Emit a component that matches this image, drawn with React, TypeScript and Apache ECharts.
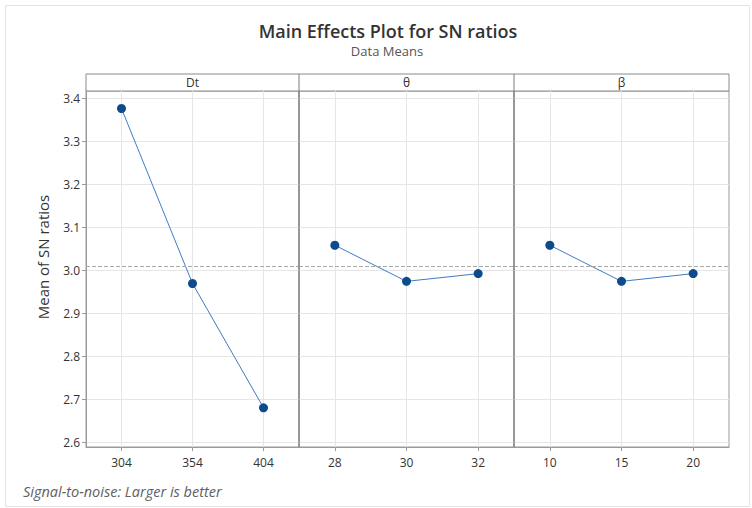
import React, { useEffect, useRef } from "react";
import * as echarts from "echarts";

const factorNames = ["Dt", "θ", "β"];
const dtLevels = [304, 354, 404];
const dtMeans = [3.377, 2.97, 2.681];
const thetaLevels = [28, 30, 32];
const thetaMeans = [3.059, 2.975, 2.993];
const betaLevels = [10, 15, 20];
const betaMeans = [3.059, 2.975, 2.993];
const yTicks = [2.6, 2.7, 2.8, 2.9, 3.0, 3.1, 3.2, 3.3, 3.4];
const grandMean = 3.009;
const yMin = 2.5898;
const yMax = 3.4177;

const FONT = "'Open Sans', 'Noto Sans', sans-serif";

export default function App() {
  const ref = useRef<HTMLDivElement>(null);
  useEffect(() => {
    if (!ref.current) return;
    const chart = echarts.init(ref.current, undefined, { renderer: "svg" });
    const levelsList = [dtLevels, thetaLevels, betaLevels];
    const meansList = [dtMeans, thetaMeans, betaMeans];
    const grids = [
      { left: 86, width: 213 },
      { left: 299, width: 215 },
      { left: 514, width: 215 },
    ].map((g) => ({
      ...g,
      top: 91,
      height: 356,
      show: true,
      borderColor: "#9a9a9a",
      borderWidth: 1,
      backgroundColor: "transparent",
    }));
    const xAxis = levelsList.map((lv, i) => {
      const step = lv[1] - lv[0];
      return {
        type: "value",
        gridIndex: i,
        min: lv[0] - step / 2,
        max: lv[lv.length - 1] + step / 2,
        axisLine: { show: true, lineStyle: { color: "#9a9a9a" } },
        axisTick: { show: true, length: 4, customValues: lv, lineStyle: { color: "#9a9a9a" } },
        axisLabel: {
          customValues: lv,
          fontSize: 12,
          color: "#333",
          margin: 9,
          fontFamily: FONT,
        },
        splitLine: { show: true, lineStyle: { color: "#e6e6e6", width: 1 } },
      };
    });
    const yAxis = [0, 1, 2].map((i) => ({
      type: "value",
      gridIndex: i,
      min: yMin,
      max: yMax,
      axisLine: { show: i === 0, lineStyle: { color: "#9a9a9a" } },
      axisTick: { show: i === 0, length: 4, customValues: yTicks, lineStyle: { color: "#9a9a9a" } },
      axisLabel: {
        show: i === 0,
        customValues: yTicks,
        formatter: (v: number) => v.toFixed(1),
        fontSize: 12,
        color: "#333",
        margin: 6,
        fontFamily: FONT,
      },
      splitLine: { show: true, lineStyle: { color: "#e6e6e6", width: 1 } },
    }));
    const series = levelsList.map((lv, i) => ({
      type: "line",
      xAxisIndex: i,
      yAxisIndex: i,
      data: lv.map((x, j) => [x, meansList[i][j]]),
      symbol: "circle",
      symbolSize: 9,
      itemStyle: { color: "#0d4c8c" },
      lineStyle: { color: "#3f7cc2", width: 1 },
      markLine: {
        silent: true,
        symbol: "none",
        label: { show: false },
        lineStyle: { color: "#a9a9a9", type: "dashed", width: 1 },
        data: [{ yAxis: grandMean }],
      },
    }));
    const panelEdges = [86, 299, 514, 729];
    const graphic: any[] = [
      {
        type: "rect",
        shape: { x: 5.5, y: 5.5, width: 744, height: 501 },
        style: { fill: "none", stroke: "#e2e2e2", lineWidth: 1 },
        silent: true,
      },
      {
        type: "rect",
        shape: { x: 86, y: 74, width: 643, height: 17 },
        style: { fill: "#fff", stroke: "#8a8a8a", lineWidth: 1 },
        silent: true,
      },
      ...[299, 514].map((x) => ({
        type: "line",
        shape: { x1: x, y1: 74, x2: x, y2: 447 },
        style: { stroke: "#7a7a7a", lineWidth: 1 },
        silent: true,
        z: 10,
      })),
      ...factorNames.map((name, i) => ({
        type: "text",
        x: (panelEdges[i] + panelEdges[i + 1]) / 2,
        y: 82.5,
        style: {
          text: name,
          align: "center",
          verticalAlign: "middle",
          fontSize: 12,
          fill: "#333",
          fontFamily: FONT,
        },
        silent: true,
      })),
      {
        type: "text",
        x: 388,
        y: 31,
        style: {
          text: "Main Effects Plot for SN ratios",
          align: "center",
          verticalAlign: "middle",
          fontSize: 18,
          fontWeight: 600,
          fill: "#333",
          fontFamily: FONT,
        },
      },
      {
        type: "text",
        x: 387,
        y: 51,
        style: {
          text: "Data Means",
          align: "center",
          verticalAlign: "middle",
          fontSize: 13,
          fill: "#555",
          fontFamily: FONT,
        },
      },
      {
        type: "text",
        x: 43,
        y: 257,
        rotation: Math.PI / 2,
        style: {
          text: "Mean of SN ratios",
          align: "center",
          verticalAlign: "middle",
          fontSize: 15,
          fill: "#333",
          fontFamily: FONT,
        },
      },
      {
        type: "text",
        x: 23,
        y: 491,
        style: {
          text: "Signal-to-noise: Larger is better",
          align: "left",
          verticalAlign: "middle",
          fontSize: 14.5,
          fontStyle: "italic",
          fill: "#606060",
          fontFamily: FONT,
        },
      },
    ];
    chart.setOption({
      animation: false,
      backgroundColor: "#fff",
      grid: grids,
      xAxis,
      yAxis,
      series,
      graphic,
    } as any);
    return () => chart.dispose();
  }, []);
  return (
    <div
      ref={ref}
      style={{ position: "fixed", left: 0, top: 0, width: 752, height: 508 }}
    />
  );
}
